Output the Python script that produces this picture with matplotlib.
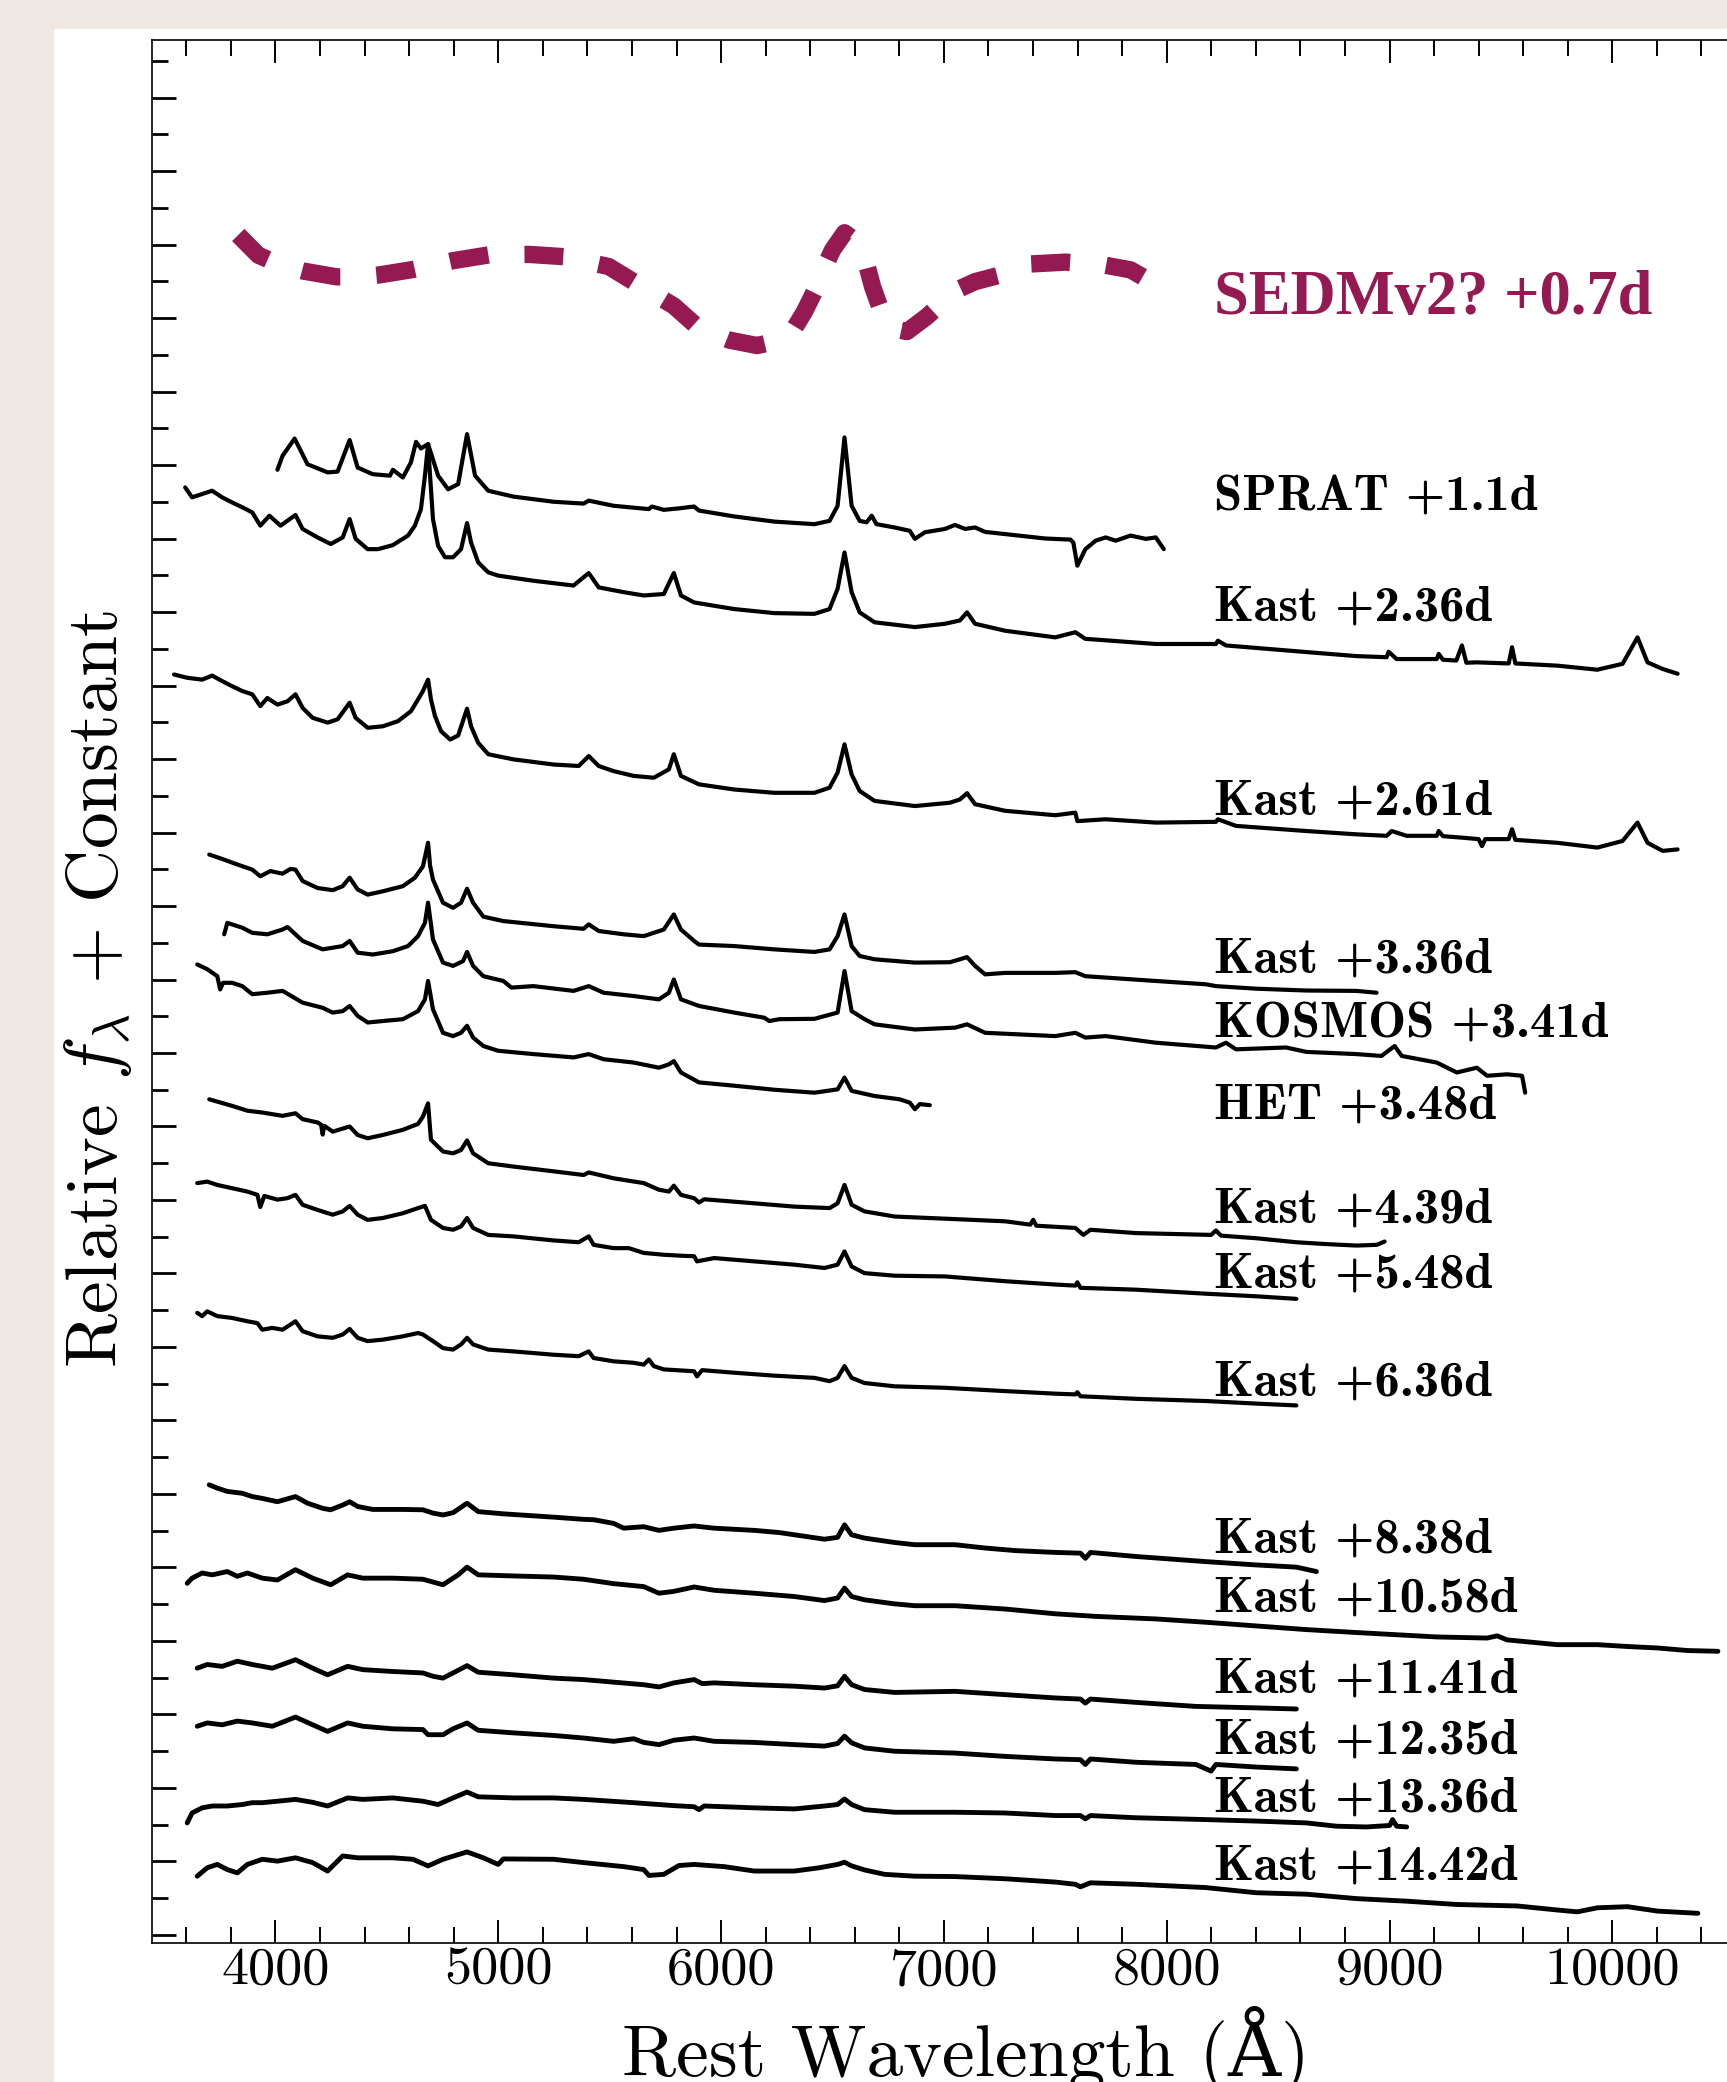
import matplotlib
matplotlib.use('Agg')
import matplotlib.pyplot as plt
from matplotlib.patches import Rectangle
from matplotlib.ticker import MultipleLocator, FixedLocator

plt.rcParams['mathtext.fontset'] = 'cm'
plt.rcParams['font.family'] = ['cmr10', 'DejaVu Serif']
plt.rcParams['axes.formatter.use_mathtext'] = True
plt.rcParams['lines.scale_dashes'] = False

# ---------------- data (wavelength [A], relative flux + constant) ----------------
sedm = [(3833, 46.26), (3923, 45.71), (4023, 45.44), (4122, 45.28), (4275, 45.12), (4369, 45.12),
        (4464, 45.17), (4617, 45.32), (4797, 45.56), (4960, 45.72), (5140, 45.73), (5293, 45.67),
        (5496, 45.40), (5631, 44.90), (5788, 44.33), (5901, 43.72), (6036, 43.40), (6162, 43.25),
        (6262, 43.39), (6329, 43.72), (6374, 44.17), (6419, 44.72), (6455, 45.26), (6500, 45.85),
        (6554, 46.32), (6599, 46.12), (6644, 45.67), (6680, 44.85), (6712, 44.31), (6766, 43.72),
        (6834, 43.63), (6924, 44.04), (7050, 44.74), (7140, 44.99), (7253, 45.17), (7388, 45.47),
        (7545, 45.52), (7703, 45.46), (7838, 45.31), (7973, 44.84)]

sprat = [(4009, 39.87), (4032, 40.25), (4086, 40.72), (4144, 40.02), (4234, 39.80), (4279, 39.82),
         (4333, 40.68), (4369, 39.93), (4437, 39.75), (4514, 39.71), (4527, 39.87), (4572, 39.66),
         (4608, 40.07), (4631, 40.63), (4653, 40.45), (4685, 40.57), (4730, 39.71), (4775, 39.34),
         (4820, 39.48), (4860, 40.84), (4896, 39.71), (4955, 39.30), (5068, 39.14), (5248, 39.00),
         (5383, 38.95), (5406, 39.03), (5518, 38.89), (5676, 38.80), (5689, 38.87), (5743, 38.78),
         (5811, 38.82), (5879, 38.87), (5901, 38.76), (6059, 38.60), (6239, 38.46), (6419, 38.39),
         (6487, 38.48), (6523, 38.89), (6554, 40.75), (6586, 38.89), (6622, 38.48), (6653, 38.44),
         (6676, 38.62), (6698, 38.39), (6779, 38.30), (6847, 38.21), (6870, 37.99), (6915, 38.17),
         (7005, 38.26), (7050, 38.37), (7095, 38.26), (7140, 38.30), (7185, 38.18), (7320, 38.09),
         (7455, 38.00), (7568, 37.97), (7581, 37.89), (7599, 37.26), (7635, 37.71), (7681, 37.94),
         (7726, 38.03), (7771, 37.94), (7838, 38.08), (7906, 37.99), (7951, 38.03), (7987, 37.71)]

kast_236 = [(3595, 39.39), (3626, 39.12), (3671, 39.21), (3716, 39.30), (3761, 39.12), (3806, 38.98),
            (3851, 38.85), (3896, 38.71), (3932, 38.35), (3973, 38.62), (4023, 38.35), (4090, 38.64),
            (4122, 38.26), (4189, 38.03), (4248, 37.85), (4302, 38.03), (4333, 38.53), (4360, 37.99),
            (4414, 37.71), (4460, 37.71), (4527, 37.82), (4595, 38.08), (4626, 38.35), (4653, 38.80),
            (4671, 39.71), (4685, 40.57), (4694, 39.71), (4707, 38.53), (4730, 37.80), (4761, 37.49),
            (4797, 37.49), (4833, 37.71), (4860, 38.42), (4878, 37.89), (4910, 37.35), (4955, 37.08),
            (5000, 36.99), (5158, 36.85), (5338, 36.72), (5406, 37.06), (5451, 36.67), (5563, 36.54),
            (5653, 36.45), (5743, 36.49), (5788, 37.06), (5820, 36.45), (5879, 36.26), (6059, 36.08),
            (6239, 35.97), (6419, 35.95), (6487, 36.08), (6523, 36.63), (6554, 37.62), (6586, 36.54),
            (6622, 35.99), (6689, 35.72), (6870, 35.59), (7005, 35.68), (7072, 35.77), (7104, 35.99),
            (7140, 35.68), (7275, 35.49), (7500, 35.31), (7590, 35.45), (7635, 35.27), (7951, 35.13),
            (8221, 35.13), (8230, 35.22), (8266, 35.09), (8627, 34.91), (8852, 34.80), (8987, 34.77),
            (8996, 34.92), (9032, 34.72), (9212, 34.72), (9221, 34.86), (9240, 34.70), (9300, 34.68),
            (9325, 35.09), (9345, 34.62), (9392, 34.63), (9535, 34.60), (9550, 35.04), (9565, 34.60),
            (9753, 34.54), (9933, 34.43), (10046, 34.59), (10113, 35.31), (10158, 34.63),
            (10226, 34.45), (10293, 34.32)]

kast_261 = [(3545, 34.30), (3604, 34.21), (3671, 34.16), (3716, 34.27), (3761, 34.12), (3806, 33.98),
            (3851, 33.85), (3896, 33.76), (3932, 33.44), (3964, 33.66), (4009, 33.48), (4054, 33.57),
            (4090, 33.76), (4122, 33.39), (4167, 33.12), (4234, 32.99), (4279, 33.08), (4333, 33.53),
            (4360, 33.12), (4414, 32.85), (4482, 32.89), (4550, 33.03), (4608, 33.30), (4640, 33.62),
            (4662, 33.85), (4685, 34.16), (4698, 33.62), (4716, 33.17), (4743, 32.76), (4784, 32.53),
            (4820, 32.64), (4860, 33.37), (4878, 32.89), (4910, 32.44), (4955, 32.13), (5068, 31.99),
            (5248, 31.85), (5361, 31.81), (5406, 32.08), (5451, 31.81), (5518, 31.67), (5608, 31.54),
            (5698, 31.49), (5766, 31.72), (5788, 32.13), (5820, 31.54), (5901, 31.31), (6059, 31.17),
            (6239, 31.08), (6419, 31.08), (6487, 31.22), (6523, 31.63), (6554, 32.40), (6586, 31.58),
            (6622, 31.13), (6689, 30.86), (6870, 30.72), (7027, 30.81), (7072, 30.90), (7104, 31.07),
            (7140, 30.77), (7275, 30.59), (7500, 30.47), (7590, 30.54), (7599, 30.31), (7726, 30.36),
            (7951, 30.27), (8221, 30.29), (8230, 30.36), (8311, 30.18), (8627, 30.04), (8852, 29.95),
            (8987, 29.91), (9010, 30.04), (9077, 29.91), (9212, 29.91), (9221, 30.04), (9240, 29.90),
            (9325, 29.86), (9400, 29.82), (9415, 29.63), (9430, 29.82), (9535, 29.82), (9550, 30.09),
            (9565, 29.80), (9753, 29.72), (9933, 29.59), (10046, 29.77), (10113, 30.27),
            (10158, 29.72), (10226, 29.50), (10293, 29.54)]

kast_336 = [(3703, 29.40), (3761, 29.28), (3829, 29.13), (3896, 28.99), (3932, 28.81), (3977, 28.95),
            (4032, 28.88), (4068, 29.01), (4090, 28.99), (4122, 28.68), (4189, 28.49), (4257, 28.43),
            (4302, 28.54), (4333, 28.77), (4369, 28.45), (4414, 28.31), (4482, 28.40), (4572, 28.54),
            (4626, 28.77), (4662, 29.08), (4685, 29.72), (4694, 29.10), (4707, 28.72), (4752, 28.09),
            (4797, 27.95), (4833, 28.09), (4860, 28.47), (4887, 28.09), (4933, 27.71), (5023, 27.59),
            (5248, 27.45), (5383, 27.38), (5406, 27.50), (5451, 27.32), (5563, 27.23), (5653, 27.18),
            (5743, 27.36), (5788, 27.77), (5820, 27.36), (5879, 27.05), (5901, 26.95), (6059, 26.91),
            (6239, 26.82), (6419, 26.75), (6487, 26.82), (6523, 27.18), (6554, 27.77), (6586, 26.91),
            (6622, 26.64), (6689, 26.55), (6870, 26.46), (7027, 26.47), (7072, 26.55), (7104, 26.61),
            (7140, 26.37), (7185, 26.14), (7275, 26.18), (7500, 26.18), (7590, 26.20), (7635, 26.09),
            (7951, 25.96), (8176, 25.87), (8221, 25.82), (8401, 25.75), (8627, 25.70), (8852, 25.69),
            (8942, 25.64)]

kosmos_341 = [(3770, 27.23), (3784, 27.54), (3851, 27.41), (3896, 27.27), (3964, 27.23), (4032, 27.36),
              (4054, 27.43), (4122, 27.05), (4212, 26.82), (4302, 26.91), (4333, 27.05), (4369, 26.73),
              (4437, 26.68), (4527, 26.77), (4595, 26.91), (4640, 27.18), (4671, 27.54), (4685, 28.09),
              (4707, 27.09), (4752, 26.46), (4797, 26.37), (4842, 26.50), (4860, 26.75), (4887, 26.37),
              (4933, 26.09), (5023, 25.96), (5059, 25.78), (5158, 25.82), (5338, 25.69), (5406, 25.82),
              (5473, 25.64), (5608, 25.55), (5721, 25.46), (5766, 25.64), (5788, 26.00), (5820, 25.46),
              (5901, 25.28), (6059, 25.10), (6194, 24.96), (6216, 24.87), (6262, 24.92), (6419, 24.93),
              (6523, 25.10), (6554, 26.23), (6586, 25.14), (6644, 24.92), (6689, 24.78), (6870, 24.64),
              (7050, 24.69), (7104, 24.78), (7185, 24.55), (7500, 24.46), (7590, 24.55), (7635, 24.42),
              (7726, 24.46), (7951, 24.28), (8221, 24.15), (8266, 24.28), (8311, 24.10), (8536, 24.15),
              (8627, 24.03), (8852, 23.97), (8964, 23.92), (9023, 24.19), (9055, 23.92), (9212, 23.74),
              (9302, 23.47), (9392, 23.60), (9438, 23.38), (9528, 23.42), (9595, 23.38), (9609, 22.92)]

het_348 = [(3649, 26.41), (3694, 26.28), (3739, 26.09), (3752, 25.73), (3765, 25.91), (3806, 25.91),
           (3851, 25.82), (3896, 25.60), (3964, 25.64), (4032, 25.69), (4122, 25.37), (4212, 25.23),
           (4257, 25.10), (4302, 25.14), (4333, 25.28), (4369, 25.01), (4414, 24.83), (4482, 24.87),
           (4572, 24.92), (4640, 25.14), (4671, 25.46), (4685, 25.96), (4707, 25.19), (4752, 24.55),
           (4797, 24.46), (4833, 24.55), (4860, 24.74), (4887, 24.42), (4933, 24.19), (5000, 24.06),
           (5158, 23.97), (5338, 23.88), (5406, 23.97), (5473, 23.83), (5608, 23.74), (5721, 23.60),
           (5766, 23.69), (5788, 23.78), (5820, 23.47), (5901, 23.20), (6059, 23.11), (6239, 23.00),
           (6419, 22.92), (6523, 23.01), (6554, 23.33), (6586, 22.97), (6689, 22.83), (6802, 22.74),
           (6847, 22.65), (6870, 22.47), (6892, 22.61), (6937, 22.58)]

kast_439 = [(3703, 22.74), (3806, 22.56), (3874, 22.43), (3941, 22.38), (4032, 22.29), (4090, 22.36),
            (4122, 22.20), (4189, 22.11), (4205, 22.05), (4212, 21.78), (4219, 22.02), (4257, 21.86),
            (4333, 22.00), (4369, 21.77), (4414, 21.68), (4482, 21.77), (4572, 21.91), (4640, 22.07),
            (4662, 22.27), (4685, 22.63), (4698, 21.64), (4752, 21.32), (4797, 21.27), (4833, 21.36),
            (4860, 21.62), (4887, 21.27), (4955, 21.00), (5068, 20.91), (5248, 20.78), (5383, 20.68),
            (5406, 20.75), (5518, 20.59), (5653, 20.46), (5721, 20.28), (5766, 20.23), (5788, 20.39),
            (5820, 20.14), (5879, 20.05), (5901, 19.93), (5924, 20.02), (6149, 19.91), (6329, 19.82),
            (6487, 19.78), (6523, 19.91), (6554, 20.41), (6586, 19.87), (6644, 19.69), (6779, 19.55),
            (7050, 19.48), (7275, 19.42), (7388, 19.33), (7401, 19.46), (7415, 19.30), (7590, 19.24),
            (7626, 19.05), (7658, 19.19), (7861, 19.10), (8199, 19.05), (8221, 19.17), (8244, 19.03),
            (8401, 18.96), (8582, 18.85), (8717, 18.80), (8852, 18.76), (8942, 18.78), (8978, 18.87)]

kast_548 = [(3649, 20.46), (3694, 20.50), (3739, 20.41), (3806, 20.32), (3874, 20.23), (3919, 20.14),
            (3932, 19.81), (3950, 20.11), (4009, 20.01), (4054, 20.05), (4090, 20.14), (4122, 19.87),
            (4189, 19.73), (4257, 19.60), (4302, 19.69), (4333, 19.84), (4369, 19.60), (4414, 19.46),
            (4482, 19.51), (4572, 19.64), (4640, 19.78), (4671, 19.84), (4698, 19.46), (4752, 19.24),
            (4797, 19.19), (4833, 19.28), (4860, 19.51), (4887, 19.24), (4955, 19.05), (5068, 19.01),
            (5248, 18.90), (5361, 18.85), (5406, 19.01), (5428, 18.78), (5518, 18.69), (5586, 18.69),
            (5653, 18.56), (5743, 18.51), (5833, 18.48), (5879, 18.47), (5892, 18.33), (5969, 18.42),
            (6149, 18.33), (6329, 18.24), (6464, 18.15), (6523, 18.24), (6554, 18.60), (6586, 18.19),
            (6644, 18.01), (6779, 17.94), (7005, 17.92), (7275, 17.79), (7500, 17.70), (7590, 17.67),
            (7599, 17.76), (7613, 17.61), (7861, 17.56), (8176, 17.45), (8401, 17.38), (8582, 17.31)]

kast_636 = [(3649, 16.93), (3671, 16.84), (3694, 16.97), (3739, 16.84), (3806, 16.79), (3874, 16.70),
            (3919, 16.65), (3941, 16.47), (3986, 16.52), (4032, 16.47), (4090, 16.70), (4122, 16.43),
            (4189, 16.29), (4257, 16.25), (4302, 16.34), (4333, 16.49), (4369, 16.25), (4414, 16.16),
            (4482, 16.20), (4572, 16.29), (4640, 16.38), (4662, 16.34), (4707, 16.16), (4752, 15.97),
            (4797, 15.93), (4833, 16.07), (4860, 16.25), (4887, 16.07), (4955, 15.93), (5068, 15.88),
            (5248, 15.79), (5361, 15.75), (5406, 15.88), (5428, 15.70), (5518, 15.61), (5608, 15.57),
            (5653, 15.52), (5676, 15.66), (5698, 15.48), (5743, 15.39), (5879, 15.34), (5892, 15.20),
            (5915, 15.37), (6059, 15.30), (6239, 15.22), (6419, 15.16), (6487, 15.07), (6523, 15.16),
            (6554, 15.48), (6586, 15.16), (6644, 15.02), (6779, 14.93), (7005, 14.89), (7275, 14.80),
            (7500, 14.73), (7590, 14.71), (7599, 14.77), (7613, 14.66), (7861, 14.59), (8176, 14.53),
            (8401, 14.46), (8582, 14.41)]

kast_838 = [(3703, 12.25), (3739, 12.16), (3784, 12.07), (3851, 12.02), (3896, 11.93), (3941, 11.88),
            (4009, 11.79), (4090, 11.93), (4144, 11.75), (4212, 11.61), (4248, 11.57), (4302, 11.70),
            (4333, 11.79), (4369, 11.66), (4437, 11.58), (4572, 11.58), (4662, 11.57), (4707, 11.48),
            (4752, 11.43), (4797, 11.49), (4860, 11.75), (4910, 11.52), (5023, 11.46), (5248, 11.37),
            (5383, 11.31), (5428, 11.30), (5518, 11.20), (5563, 11.07), (5653, 11.11), (5721, 11.01),
            (5788, 11.07), (5879, 11.13), (5969, 11.07), (6149, 11.01), (6262, 10.95), (6329, 10.89),
            (6464, 10.77), (6523, 10.82), (6554, 11.16), (6586, 10.89), (6644, 10.80), (6779, 10.68),
            (6870, 10.62), (7050, 10.62), (7185, 10.53), (7320, 10.46), (7500, 10.41), (7613, 10.39),
            (7635, 10.25), (7658, 10.41), (7861, 10.30), (8176, 10.16), (8401, 10.07), (8582, 10.01),
            (8672, 9.89)]

kast_1058 = [(3604, 9.57), (3626, 9.71), (3671, 9.85), (3716, 9.80), (3784, 9.89), (3829, 9.76),
             (3874, 9.85), (3941, 9.71), (4009, 9.66), (4090, 9.94), (4167, 9.71), (4248, 9.53),
             (4324, 9.80), (4392, 9.71), (4527, 9.71), (4662, 9.68), (4752, 9.53), (4820, 9.80),
             (4860, 10.01), (4910, 9.80), (5068, 9.77), (5248, 9.74), (5383, 9.68), (5518, 9.56),
             (5653, 9.48), (5721, 9.30), (5788, 9.35), (5879, 9.47), (5969, 9.38), (6149, 9.30),
             (6329, 9.21), (6464, 9.10), (6523, 9.17), (6554, 9.44), (6586, 9.21), (6644, 9.12),
             (6779, 9.01), (6870, 8.96), (7050, 8.96), (7275, 8.87), (7500, 8.74), (7681, 8.67),
             (7951, 8.60), (8176, 8.51), (8401, 8.41), (8627, 8.31), (8852, 8.23), (9032, 8.17),
             (9212, 8.11), (9438, 8.08), (9483, 8.14), (9528, 8.03), (9753, 7.90), (9933, 7.90),
             (10068, 7.85), (10203, 7.81), (10338, 7.74), (10474, 7.72)]

kast_1141 = [(3649, 7.26), (3694, 7.36), (3761, 7.31), (3829, 7.45), (3896, 7.36), (3986, 7.26),
             (4090, 7.49), (4167, 7.26), (4234, 7.08), (4324, 7.31), (4392, 7.22), (4527, 7.17),
             (4662, 7.13), (4707, 7.04), (4752, 6.99), (4797, 7.13), (4860, 7.33), (4910, 7.15),
             (5068, 7.08), (5248, 6.99), (5383, 6.95), (5518, 6.88), (5653, 6.81), (5721, 6.75),
             (5788, 6.86), (5879, 6.95), (5915, 6.84), (5969, 6.86), (6149, 6.81), (6329, 6.77),
             (6464, 6.72), (6523, 6.78), (6554, 7.04), (6586, 6.81), (6644, 6.68), (6779, 6.60),
             (7050, 6.63), (7275, 6.54), (7500, 6.45), (7613, 6.42), (7635, 6.31), (7658, 6.42),
             (7861, 6.33), (8131, 6.22), (8401, 6.18), (8582, 6.15)]

kast_1235 = [(3649, 5.68), (3694, 5.77), (3761, 5.72), (3829, 5.82), (3896, 5.77), (3986, 5.68),
             (4090, 5.93), (4167, 5.72), (4234, 5.54), (4324, 5.77), (4392, 5.68), (4527, 5.61),
             (4662, 5.59), (4685, 5.45), (4752, 5.45), (4797, 5.61), (4860, 5.77), (4910, 5.57),
             (5068, 5.50), (5248, 5.43), (5383, 5.36), (5518, 5.27), (5608, 5.34), (5653, 5.24),
             (5721, 5.18), (5788, 5.30), (5879, 5.36), (5969, 5.27), (6149, 5.24), (6329, 5.18),
             (6464, 5.14), (6523, 5.21), (6554, 5.41), (6586, 5.23), (6644, 5.09), (6779, 5.00),
             (7050, 4.95), (7275, 4.86), (7500, 4.79), (7613, 4.77), (7635, 4.64), (7658, 4.79),
             (7861, 4.70), (8131, 4.64), (8199, 4.46), (8221, 4.64), (8401, 4.57), (8582, 4.52)]

kast_1336 = [(3604, 3.05), (3626, 3.32), (3671, 3.46), (3716, 3.51), (3784, 3.51), (3851, 3.55),
             (3896, 3.60), (3941, 3.60), (4009, 3.64), (4090, 3.69), (4167, 3.61), (4234, 3.51),
             (4324, 3.73), (4392, 3.69), (4527, 3.73), (4662, 3.64), (4730, 3.55), (4797, 3.73),
             (4860, 3.89), (4910, 3.76), (5068, 3.73), (5248, 3.73), (5383, 3.69), (5608, 3.60),
             (5788, 3.52), (5879, 3.49), (5901, 3.41), (5924, 3.51), (6149, 3.46), (6329, 3.43),
             (6464, 3.51), (6523, 3.55), (6554, 3.70), (6586, 3.55), (6644, 3.41), (6779, 3.34),
             (7050, 3.34), (7275, 3.32), (7500, 3.25), (7613, 3.25), (7635, 3.16), (7658, 3.25),
             (7861, 3.19), (8176, 3.14), (8401, 3.10), (8627, 3.05), (8762, 2.96), (8897, 2.94),
             (9001, 2.98), (9014, 3.14), (9032, 2.96), (9077, 2.94)]

kast_1442 = [(3649, 1.60), (3694, 1.83), (3739, 1.92), (3784, 1.78), (3829, 1.69), (3874, 1.92),
             (3941, 2.06), (4009, 2.01), (4090, 2.10), (4167, 1.97), (4234, 1.74), (4302, 2.15),
             (4369, 2.10), (4527, 2.10), (4617, 2.06), (4685, 1.88), (4752, 2.06), (4860, 2.26),
             (4933, 2.10), (5000, 1.92), (5023, 2.07), (5248, 2.06), (5383, 1.97), (5563, 1.86),
             (5653, 1.78), (5676, 1.62), (5743, 1.65), (5811, 1.89), (5879, 1.92), (6014, 1.86),
             (6149, 1.74), (6329, 1.74), (6442, 1.83), (6523, 1.92), (6554, 1.98), (6586, 1.88),
             (6644, 1.77), (6734, 1.65), (6870, 1.60), (7050, 1.59), (7275, 1.53), (7500, 1.44),
             (7590, 1.38), (7613, 1.31), (7658, 1.42), (7861, 1.38), (8176, 1.29), (8401, 1.15),
             (8627, 1.11), (8852, 0.99), (9077, 0.92), (9302, 0.83), (9438, 0.81), (9573, 0.79),
             (9753, 0.68), (9843, 0.63), (9933, 0.74), (10068, 0.77), (10203, 0.65), (10384, 0.59)]

early_spectra = [sprat, kast_236, kast_261, kast_336, kosmos_341, het_348, kast_439, kast_548,
                 kast_636]
late_spectra = [kast_838, kast_1058, kast_1141, kast_1235, kast_1336, kast_1442]

labels = ['SPRAT +1.1d', 'Kast +2.36d', 'Kast +2.61d', 'Kast +3.36d', 'KOSMOS +3.41d',
          'HET +3.48d', 'Kast +4.39d', 'Kast +5.48d', 'Kast +6.36d', 'Kast +8.38d',
          'Kast +10.58d', 'Kast +11.41d', 'Kast +12.35d', 'Kast +13.36d', 'Kast +14.42d']
label_y = [38.75, 35.78, 30.48, 26.18, 24.41, 22.23, 19.40, 17.61, 14.67, 10.42,
           8.79, 6.61, 4.95, 3.35, 1.50]
sedm_label = 'SEDMv2? +0.7d'
sedm_label_y = 44.11
label_x = 8212

xticks = [4000, 5000, 6000, 7000, 8000, 9000, 10000]
xticklabels = ['4000', '5000', '6000', '7000', '8000', '9000', '10000']

# ---------------- figure ----------------
W, H = 1727, 2082
BEIGE = '#f0e8e2'
WINE = '#961a52'

fig = plt.figure(figsize=(W / 100, H / 100), dpi=100, facecolor=BEIGE)
fig.add_artist(Rectangle((54 / W, 0), 1, 1 - 29 / H, transform=fig.transFigure,
                         facecolor='white', edgecolor='none', zorder=0))

ax = fig.add_axes([152 / W, 139 / H, (1746 - 152) / W, (1943 - 40) / H])
ax.set_xlim(3446, 10600)
ax.set_ylim(-0.218, 51.565)

for spec in early_spectra:
    w, f = zip(*spec)
    ax.plot(w, f, color='black', lw=3.0, solid_joinstyle='round', solid_capstyle='round')
for spec in late_spectra:
    w, f = zip(*spec)
    ax.plot(w, f, color='black', lw=3.5, solid_joinstyle='round', solid_capstyle='round')

w, f = zip(*sedm)
ax.plot(w, f, color=WINE, lw=12.5, linestyle=(0, (28, 26)), dash_capstyle='butt')

for txt, yy in zip(labels, label_y):
    ax.text(label_x, yy, txt, fontsize=36.5, family=['cmb10', 'DejaVu Serif'],
            ha='left', va='baseline', color='black', clip_on=False)
ax.text(label_x, sedm_label_y, sedm_label, fontsize=45, family='Liberation Serif',
        weight='bold', ha='left', va='baseline', color=WINE, clip_on=False)

# ticks
ax.set_xticks(xticks)
ax.set_xticklabels(xticklabels, fontsize=39)
ax.xaxis.set_minor_locator(MultipleLocator(200))
ax.yaxis.set_major_locator(FixedLocator(list(range(0, 51, 2))))
ax.yaxis.set_minor_locator(FixedLocator(list(range(1, 52, 2))))
ax.tick_params(which='both', direction='in', top=True, bottom=True, left=True, right=False,
               labelleft=False, labeltop=False)
ax.tick_params(axis='x', which='major', length=16.5, width=1.4, pad=3)
ax.tick_params(axis='x', which='minor', length=11.5, width=1.4)
ax.tick_params(axis='y', which='major', length=17, width=2.0)
ax.tick_params(axis='y', which='minor', length=11.5, width=2.0)
for sp in ax.spines.values():
    sp.set_linewidth(1.2)

fig.text(98 / W, 1 - 989 / H, r'Relative $f_\lambda$ + Constant', rotation=90,
         ha='center', va='center', fontsize=53)
fig.text(966 / W, 1 - 2075 / H, 'Rest Wavelength (Å)', ha='center', va='baseline', fontsize=53)

fig.savefig('out.png', dpi=100, facecolor=BEIGE)
